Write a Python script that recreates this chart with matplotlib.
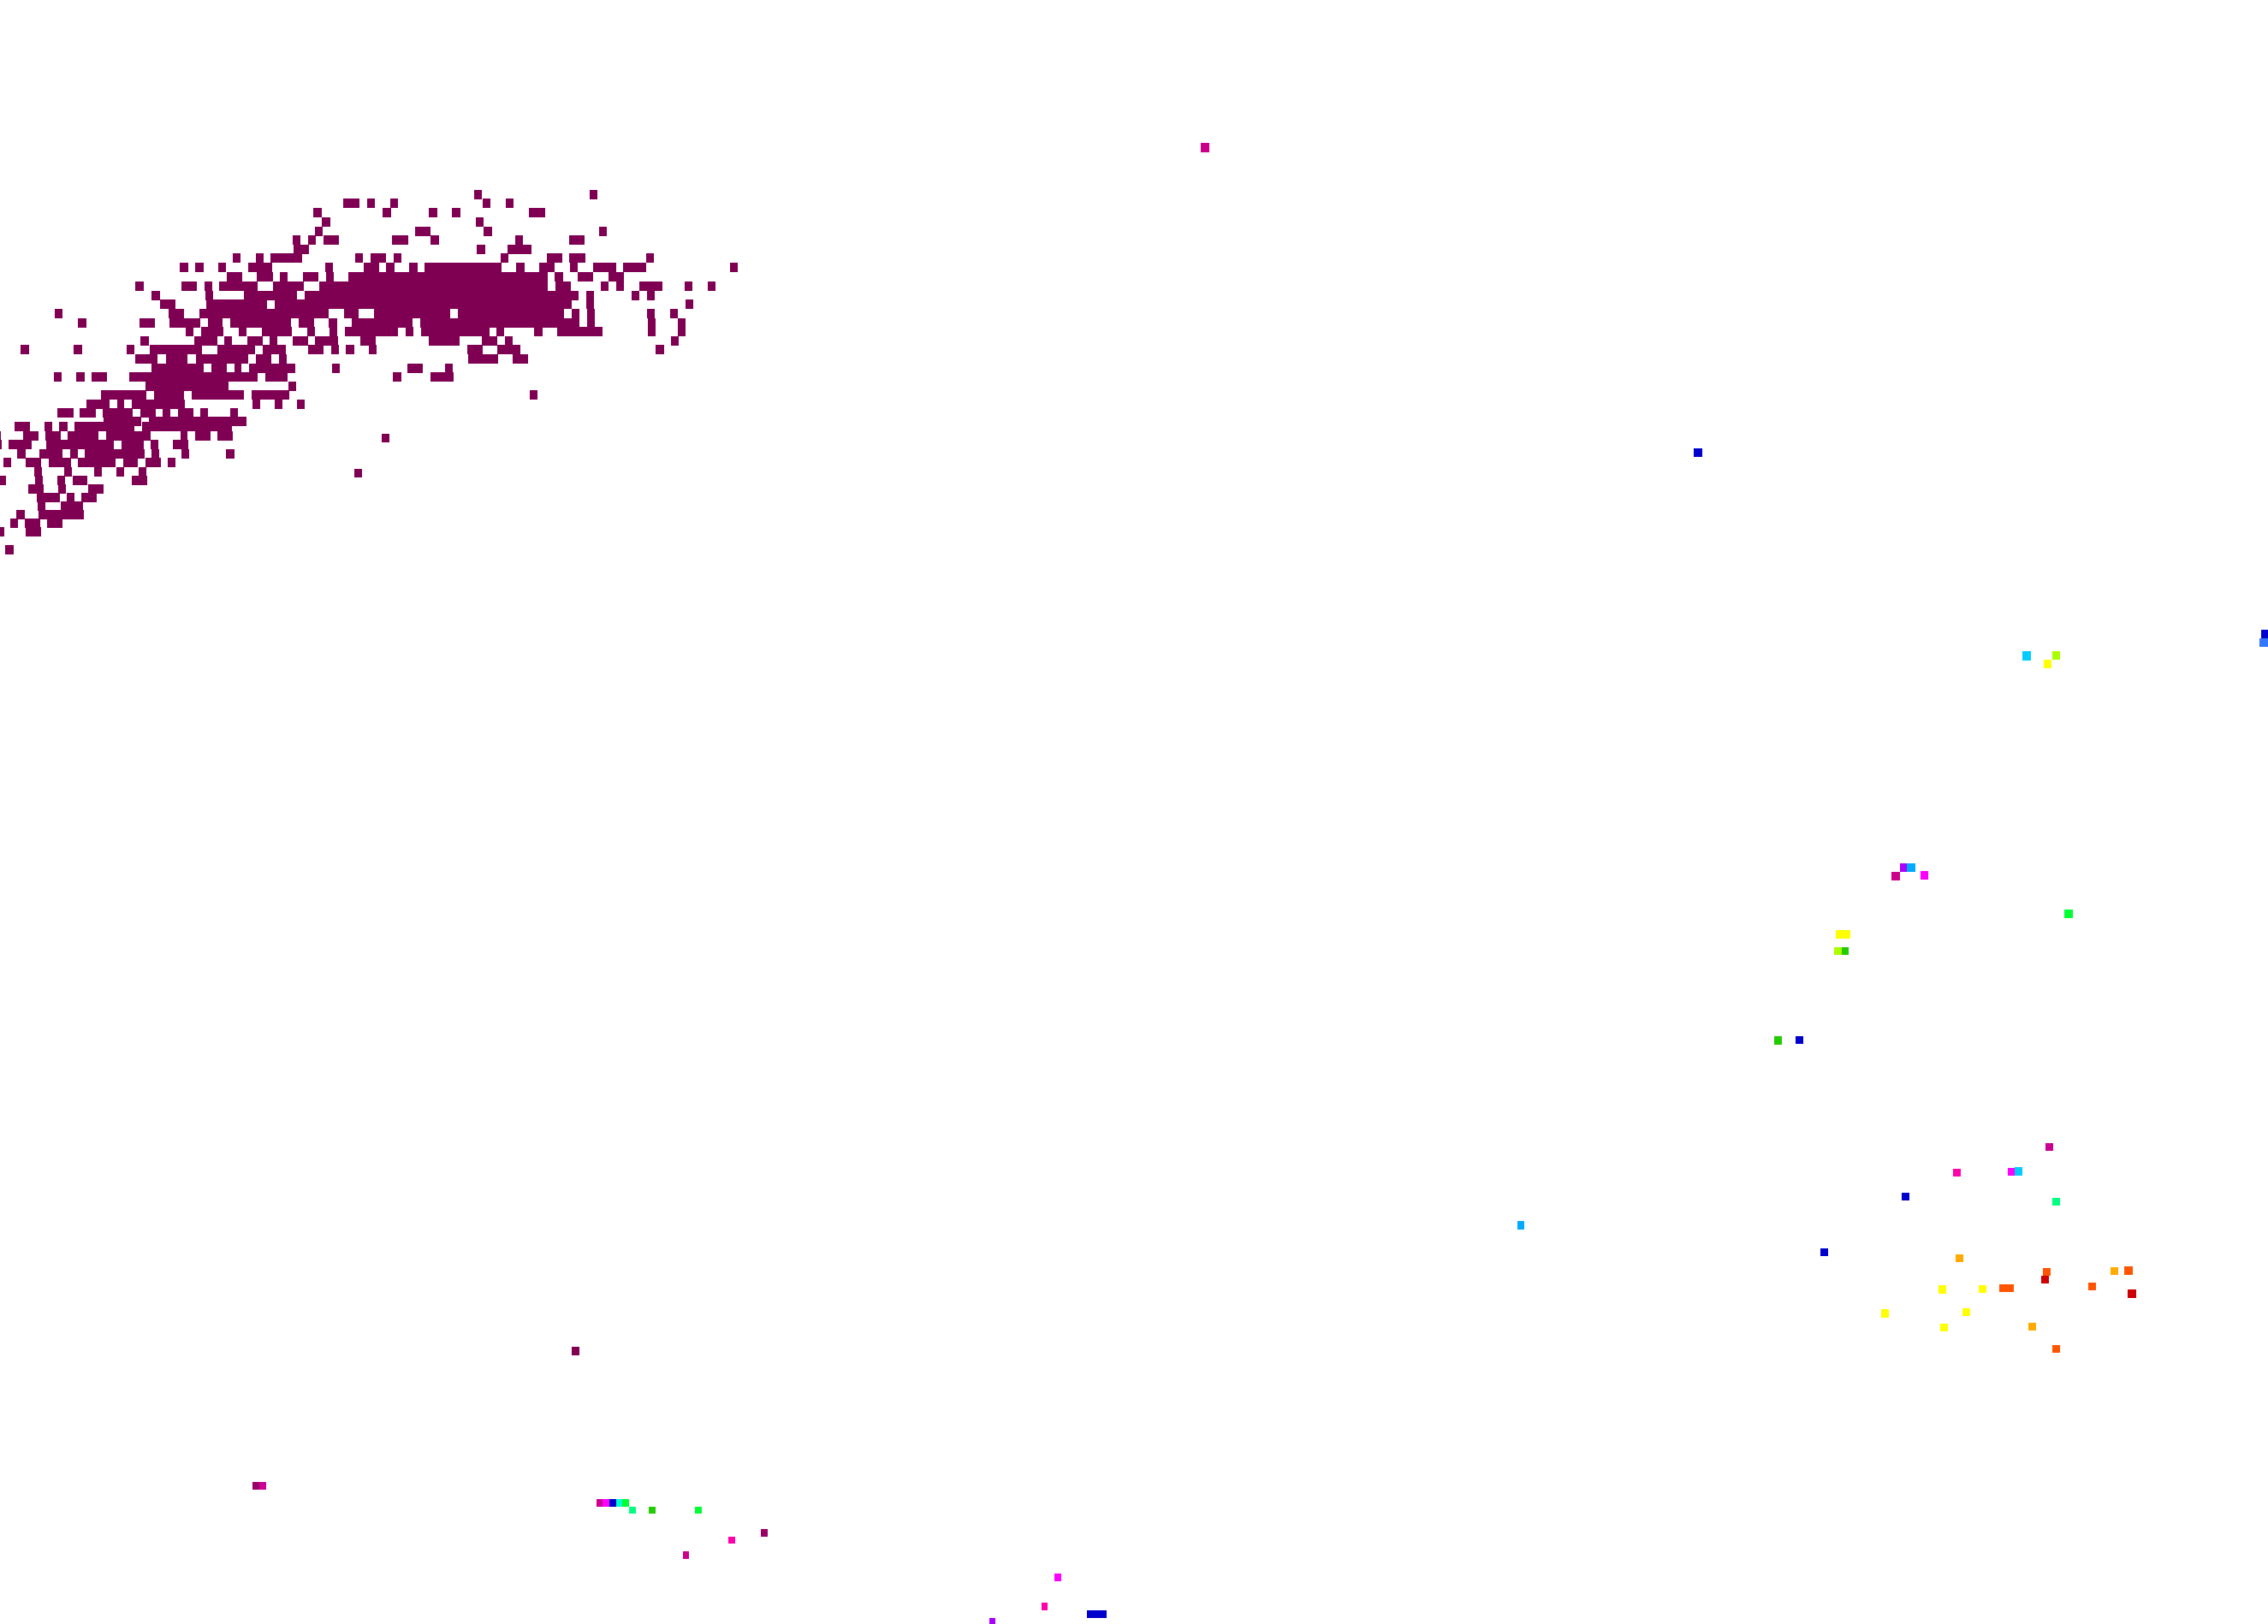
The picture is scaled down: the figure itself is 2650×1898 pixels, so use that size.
from matplotlib import pyplot as plt

# The whole picture is in reference pixel coordinates, no axes are shown
WIDTH = 2650
HEIGHT = 1899
DENSE_COLOR = '#7f0052'
ROW_HEIGHT = 11
Y_SHIFT = 1

# top edge of each row of the dense cluster
row_tops = [222, 232, 243, 254, 265, 275, 286, 296, 307, 318, 329, 340, 350,
            361, 372, 382, 393, 403, 414, 425, 435, 446, 456, 467, 477, 487,
            493, 504, 514, 525, 535, 546, 556, 566, 576, 586, 596, 606, 616,
            637]

# filled stretches (start, end) in every row of the dense cluster
row_runs = [
    [(554, 563), (689, 698)],
    [(401, 420), (429, 438), (456, 465), (564, 573), (591, 600)],
    [(366, 376), (447, 457), (501, 511), (528, 538), (618, 637)],
    [(376, 386), (556, 565)],
    [(368, 377), (485, 503), (565, 575), (700, 709)],
    [(342, 351), (360, 369), (378, 396), (458, 477), (503, 513), (602, 611),
     (665, 683)],
    [(343, 361), (557, 567), (593, 621)],
    [(272, 281), (299, 308), (316, 353), (415, 424), (433, 451), (460, 469),
     (585, 594), (639, 657), (665, 684), (755, 764)],
    [(210, 220), (228, 238), (255, 264), (290, 318), (380, 389), (425, 443),
     (451, 461), (478, 488), (496, 586), (603, 613), (630, 648), (666, 675),
     (693, 720), (728, 755), (853, 862)],
    [(265, 283), (300, 319), (327, 336), (354, 372), (381, 390), (407, 640),
     (648, 658), (675, 693), (711, 729)],
    [(158, 168), (212, 230), (239, 248), (256, 301), (319, 355), (373, 640),
     (649, 667), (702, 711), (720, 729), (747, 774), (800, 809), (827, 836)],
    [(177, 187), (240, 249), (285, 347), (356, 676), (685, 694), (738, 747),
     (756, 765)],
    [(187, 205), (241, 312), (321, 668), (685, 694), (801, 810)],
    [(64, 73), (197, 215), (233, 384), (402, 419), (437, 526), (535, 659),
     (668, 677), (686, 695), (756, 765), (783, 792)],
    [(91, 101), (163, 181), (198, 234), (243, 260), (269, 340), (349, 367),
     (384, 394), (411, 482), (491, 677), (686, 695), (757, 766), (792, 801)],
    [(217, 226), (235, 261), (279, 288), (306, 341), (359, 368), (385, 394),
     (403, 465), (474, 483), (492, 572), (580, 589), (624, 634), (651, 704),
     (757, 766), (792, 801)],
    [(164, 174), (227, 254), (262, 271), (289, 307), (315, 324), (342, 360),
     (368, 395), (421, 439), (501, 537), (563, 581), (590, 599), (784, 793)],
    [(24, 34), (86, 96), (148, 157), (175, 236), (254, 298), (307, 334),
     (360, 378), (387, 396), (404, 414), (431, 440), (546, 564), (581, 608),
     (766, 776)],
    [(158, 184), (194, 219), (229, 290), (299, 317), (326, 335), (547, 582),
     (599, 617)],
    [(177, 238), (247, 265), (274, 282), (291, 345), (388, 397), (476, 494),
     (520, 529)],
    [(63, 72), (89, 99), (107, 125), (151, 301), (310, 336), (459, 469),
     (503, 530)],
    [(170, 267), (337, 346)],
    [(118, 171), (180, 215), (224, 285), (294, 338), (619, 628)],
    [(101, 128), (137, 145), (154, 216), (295, 304), (321, 330), (347, 356)],
    [(67, 86), (93, 112), (120, 155), (164, 182), (190, 199), (208, 226),
     (234, 243), (269, 278)],
    [(121, 165), (174, 288)],
    [(17, 35), (52, 61), (69, 79), (87, 157), (166, 271)],
    [(0, 1), (27, 45), (53, 71), (79, 115), (124, 176), (211, 219), (228, 246),
     (254, 272)],
    [(0, 2), (10, 37), (54, 133), (142, 168), (176, 185), (202, 220)],
    [(20, 30), (46, 73), (82, 91), (99, 169), (177, 186), (212, 221),
     (264, 274)],
    [(4, 13), (30, 48), (57, 83), (91, 135), (144, 161), (170, 188), (196, 205)],
    [(40, 49), (75, 84), (110, 119), (136, 145), (162, 171)],
    [(0, 7), (41, 50), (67, 76), (85, 102), (154, 172)],
    [(33, 51), (68, 77), (103, 121)],
    [(43, 70), (78, 87), (95, 113)],
    [(44, 53), (71, 97)],
    [(19, 29), (45, 98)],
    [(12, 21), (29, 47), (55, 73)],
    [(0, 5), (30, 48)],
    [(6, 16)],
]

# loose cells away from the cluster
cell_left = [2390, 2282, 2346, 2354, 2222, 2398, 2127, 2285, 2387, 2385, 2466,
             2482, 2265, 2312, 2336, 2440, 2486, 2198, 2293, 2267, 2370, 2398,
             2363, 2398, 2388, 2642, 2640,
             2220, 2228, 2210, 2244, 2412, 2145, 2143, 2152, 2073, 2098,
             295, 303, 697, 704, 712, 720, 727, 735, 758, 812, 889, 851, 798,
             1232, 1217, 1270, 1156, 1403, 1979, 668, 1773, 446, 414]
cell_right = [2399, 2291, 2355, 2363, 2231, 2407, 2136, 2294, 2396, 2394, 2475,
              2492, 2274, 2321, 2353, 2449, 2496, 2207, 2302, 2276, 2379, 2407,
              2373, 2407, 2397, 2650, 2650,
              2229, 2238, 2220, 2253, 2422, 2162, 2152, 2160, 2082, 2107,
              303, 311, 704, 712, 720, 727, 735, 743, 766, 820, 897, 859, 805,
              1240, 1224, 1293, 1163, 1413, 1989, 677, 1781, 455, 423]
cell_top = [1336, 1366, 1365, 1364, 1394, 1400, 1459, 1466, 1482, 1491, 1481,
            1480, 1502, 1502, 1501, 1499, 1507, 1530, 1529, 1547, 1546, 1572,
            761, 761, 771, 736, 746,
            1009, 1009, 1019, 1018, 1063, 1087, 1107, 1107, 1211, 1211,
            1732, 1732, 1752, 1752, 1752, 1752, 1752, 1761, 1761, 1761, 1787,
            1796, 1813,
            1839, 1873, 1882, 1891, 167, 524, 1574, 1427, 507, 548]
cell_bottom = [1345, 1375, 1374, 1374, 1403, 1409, 1468, 1475, 1491, 1500, 1490,
               1490, 1512, 1511, 1510, 1508, 1517, 1540, 1538, 1556, 1555, 1581,
               772, 771, 781, 746, 756,
               1019, 1019, 1029, 1028, 1073, 1097, 1116, 1116, 1221, 1220,
               1741, 1741, 1761, 1761, 1761, 1761, 1761, 1769, 1769, 1769, 1796,
               1804, 1822,
               1848, 1882, 1891, 1899, 178, 534, 1584, 1437, 517, 558]
cell_colors = ['#cc0090', '#ff00aa', '#ff00ff', '#00ccff', '#0000cc', '#00ff80',
               '#0000cc', '#ffaa00', '#ff5500', '#cc0000', '#ffaa00', '#ff5500',
               '#ffff00', '#ffff00', '#ff5500', '#ff5500', '#cc0000', '#ffff00',
               '#ffff00', '#ffff00', '#ffaa00', '#ff5500',
               '#00ccff', '#aaff00', '#ffff00', '#0000cc', '#3377ff',
               '#aa00ff', '#00aaff', '#cc0088', '#ff00ff', '#00ff33', '#ffff00',
               '#aaff00', '#22cc00', '#22cc00', '#0000cc',
               '#990066', '#cc0099', '#cc0090', '#ff00ff', '#0000cc', '#00ffcc',
               '#00ff33', '#00ff80', '#22cc00', '#00ff33', '#990066', '#ff00aa',
               '#cc0088',
               '#ff00ff', '#ff00aa', '#0000cc', '#aa00ff', '#cc0088', '#0000cc',
               DENSE_COLOR, '#00aaff', DENSE_COLOR, DENSE_COLOR]

fig = plt.figure(figsize=(WIDTH / 100, HEIGHT / 100), dpi=100)
axis = fig.add_axes([0, 0, 1, 1])

# dense cluster, one row at a time
for top, runs in zip(row_tops, row_runs):
    spans = [(start, end - start) for start, end in runs]
    axis.broken_barh(spans, (top + Y_SHIFT, ROW_HEIGHT),
                     facecolors=DENSE_COLOR, edgecolor='none', antialiased=False)

# loose cells
for left, right, top, bottom, color in zip(cell_left, cell_right, cell_top,
                                           cell_bottom, cell_colors):
    axis.bar(left, bottom - top, width=right - left, bottom=top + Y_SHIFT,
             align='edge', color=color, edgecolor='none', antialiased=False)

axis.set_xlim(0, WIDTH)
axis.set_ylim(HEIGHT, 0)
axis.axis('off')

fig.savefig('out.png', dpi=100, facecolor='white')
